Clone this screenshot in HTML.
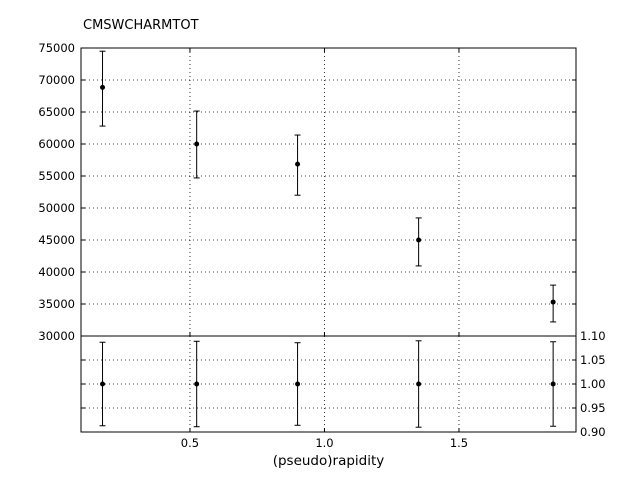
<!DOCTYPE html>
<html><head><meta charset="utf-8"><style>
body{margin:0;background:#fff}
svg{display:block;font-family:"DejaVu Sans","Liberation Sans",sans-serif}
</style></head><body>
<svg id="c" width="640" height="480">
<text x="83" y="29" font-size="13">CMSWCHARMTOT</text>
</svg>
<script>
const xs=[0.175,0.525,0.9,1.35,1.85];
const vals=[68850,60000,56850,45000,35300];
const errLo=[62800,54700,52000,40950,32200];
const errHi=[74500,65150,61400,48450,37950];
const ratio=[1,1,1,1,1];
const ratioLo=[0.913,0.911,0.914,0.91,0.912];
const ratioHi=[1.087,1.089,1.086,1.09,1.088];
const xTicks=[0.5,1.0,1.5];
const xTickLabels=["0.5","1.0","1.5"];
const yTicks=[30000,35000,40000,45000,50000,55000,60000,65000,70000,75000];
const rTicks=[0.90,0.95,1.00,1.05,1.10];
const rTickLabels=["0.90","0.95","1.00","1.05","1.10"];
const L=81,R=576,T=48,M=336,B=432;
const X=v=>L+(v-0.095)/(1.935-0.095)*(R-L);
const Y=v=>M-(v-30000)/(75000-30000)*(M-T);
const YR=v=>B-(v-0.9)/(0.2)*(B-M);
const s=document.getElementById('c');
const NS='http://www.w3.org/2000/svg';
function mk(t,a,p){const e=document.createElementNS(NS,t);for(const k in a)e.setAttribute(k,a[k]);(p||s).appendChild(e);return e;}
xTicks.forEach(v=>{
 const g=mk('line',{x1:X(v),x2:X(v),y1:T,y2:M,stroke:'#000','stroke-dasharray':'1,3','stroke-width':0.8});
 
 
 const g2=mk('line',{x1:X(v),x2:X(v),y1:M,y2:B,stroke:'#000','stroke-dasharray':'1,3','stroke-width':0.8});
 
 
 mk('line',{x1:X(v),x2:X(v),y1:B,y2:B-4,stroke:'#000'});
 mk('line',{x1:X(v),x2:X(v),y1:M,y2:M-4,stroke:'#000'});
 mk('line',{x1:X(v),x2:X(v),y1:T,y2:T+4,stroke:'#000'});
});
xTickLabels.forEach((t,i)=>{
 const e=mk('text',{x:X(xTicks[i]),y:B+15,'font-size':11.5,'text-anchor':'middle'});
 e.textContent=t;
 
 
});
yTicks.forEach(v=>{
 if(v>30000&&v<75000){const g=mk('line',{x1:L,x2:R,y1:Y(v),y2:Y(v),stroke:'#000','stroke-dasharray':'1,3','stroke-width':0.8});
 
 }
 mk('line',{x1:L,x2:L+4,y1:Y(v),y2:Y(v),stroke:'#000'});
 mk('line',{x1:R,x2:R-4,y1:Y(v),y2:Y(v),stroke:'#000'});
 const e=mk('text',{x:L-6,y:Y(v)+4,'font-size':11.5,'text-anchor':'end'});
 e.textContent=String(v);
 
 
});
rTicks.forEach((v,i)=>{
 if(v>0.9&&v<1.1){const g=mk('line',{x1:L,x2:R,y1:YR(v),y2:YR(v),stroke:'#000','stroke-dasharray':'1,3','stroke-width':0.8});
 
 }
 mk('line',{x1:R,x2:R-4,y1:YR(v),y2:YR(v),stroke:'#000'});
 mk('line',{x1:L,x2:L+4,y1:YR(v),y2:YR(v),stroke:'#000'});
 const e=mk('text',{x:R+4,y:YR(v)+4,'font-size':11.5});
 e.textContent=rTickLabels[i];
 
 
});
const f1=mk('rect',{x:L,y:T,width:R-L,height:M-T,fill:'none',stroke:'#000'});


const f2=mk('rect',{x:L,y:M,width:R-L,height:B-M,fill:'none',stroke:'#000'});


xs.forEach((x,i)=>{
 const px=X(x);
 const g=mk('g',{});
 
 
 mk('line',{x1:px,x2:px,y1:Y(errLo[i]),y2:Y(errHi[i]),stroke:'#000'},g);
 mk('line',{x1:px-3,x2:px+3,y1:Y(errLo[i]),y2:Y(errLo[i]),stroke:'#000'},g);
 mk('line',{x1:px-3,x2:px+3,y1:Y(errHi[i]),y2:Y(errHi[i]),stroke:'#000'},g);
 mk('circle',{cx:px,cy:Y(vals[i]),r:2.5,fill:'#000'},g);
 const h=mk('g',{});
 
 
 mk('line',{x1:px,x2:px,y1:YR(ratioLo[i]),y2:YR(ratioHi[i]),stroke:'#000'},h);
 mk('line',{x1:px-3,x2:px+3,y1:YR(ratioLo[i]),y2:YR(ratioLo[i]),stroke:'#000'},h);
 mk('line',{x1:px-3,x2:px+3,y1:YR(ratioHi[i]),y2:YR(ratioHi[i]),stroke:'#000'},h);
 mk('circle',{cx:px,cy:YR(ratio[i]),r:2.5,fill:'#000'},h);
});
const xt=mk('text',{x:(L+R)/2,y:465,'font-size':13.5,'text-anchor':'middle'});
xt.textContent='(pseudo)rapidity';


</script>
</body></html>
